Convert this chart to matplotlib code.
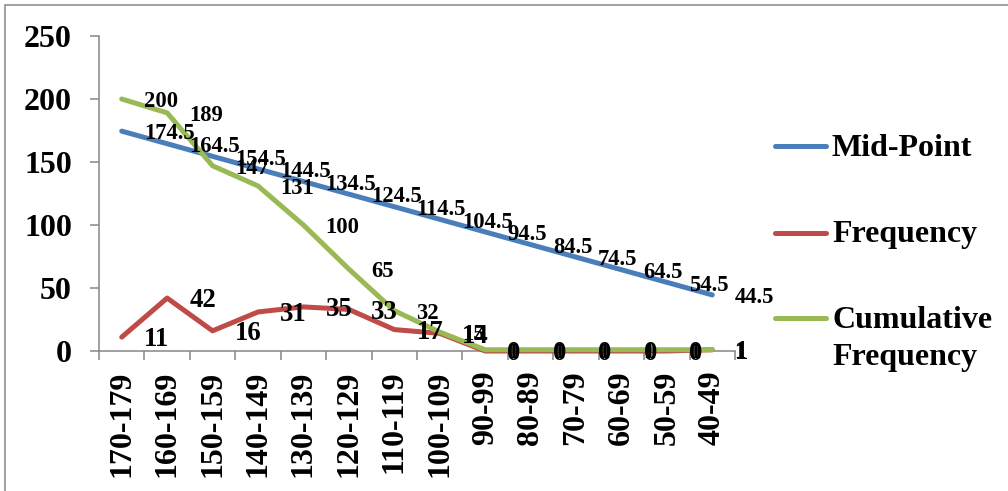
import matplotlib
matplotlib.use("Agg")
import matplotlib.pyplot as plt
from matplotlib.lines import Line2D
from matplotlib.patches import Rectangle
import numpy as np

plt.rcParams['font.family'] = ['Liberation Serif', 'DejaVu Serif']
plt.rcParams['font.weight'] = 'bold'

classes = ["170-179", "160-169", "150-159", "140-149", "130-139", "120-129",
           "110-119", "100-109", "90-99", "80-89", "70-79", "60-69", "50-59", "40-49"]
mid_point = [174.5, 164.5, 154.5, 144.5, 134.5, 124.5, 114.5, 104.5,
             94.5, 84.5, 74.5, 64.5, 54.5, 44.5]
frequency = [11, 42, 16, 31, 35, 33, 17, 14, 0, 0, 0, 0, 0, 1]
cumulative = [200, 189, 147, 131, 100, 65, 32, 15, 1, 1, 1, 1, 1, 1]

series = [
    ("Mid-Point", mid_point, "#4A7EBB", 16.3),
    ("Frequency", frequency, "#BE4B48", 19.3),
    ("Cumulative\nFrequency", cumulative, "#98B954", 16.3),
]

W, H, DPI = 1008, 491, 100
fig = plt.figure(figsize=(W / DPI, H / DPI), dpi=DPI)
ax = fig.add_axes([99 / W, 1 - 351 / H, (735 - 99) / W, (351 - 36) / H])

x = np.arange(len(classes))
for name, vals, color, fs in series:
    ax.plot(x, vals, color=color, lw=3.6, solid_capstyle='round',
            solid_joinstyle='round', clip_on=False, zorder=3)
for name, vals, color, fs in series:
    for xi, v in zip(x, vals):
        ax.annotate(f"{v:g}", (xi, v), xytext=(16, -2), textcoords='offset points',
                    ha='left', va='center', fontsize=fs, fontweight='bold',
                    color='black', zorder=5, annotation_clip=False)

grey = "#868686"
ax.set_xlim(-0.5, len(classes) - 0.5)
ax.set_ylim(0, 250)
ax.set_yticks(np.arange(0, 251, 50))
ax.set_xticks(x)
ax.set_xticklabels(classes, rotation=90, va='top', ha='center')
ax.set_xticks(np.arange(-0.5, len(classes), 1), minor=True)
ax.tick_params(axis='x', which='major', length=0, pad=14, labelsize=23)
ax.tick_params(axis='x', which='minor', length=6.5, width=1.1, color=grey, direction='out')
ax.tick_params(axis='y', length=6.5, width=1.1, color=grey, pad=13, labelsize=23)
for lab in ax.get_xticklabels() + ax.get_yticklabels():
    lab.set_fontweight('bold')
for s in ('top', 'right'):
    ax.spines[s].set_visible(False)
for s in ('left', 'bottom'):
    ax.spines[s].set_color(grey)
    ax.spines[s].set_linewidth(1.1)

# Legend drawn in pixel coordinates to the right of the plot
leg_rows = [146, 233, 318]
for (name, vals, color, fs), yp in zip(series, leg_rows):
    yf = 1 - yp / H
    fig.add_artist(Line2D([775 / W, 826 / W], [yf, yf], color=color, lw=3.6,
                          solid_capstyle='round', transform=fig.transFigure))
    lines = name.split("\n")
    for i, ln in enumerate(lines):
        fig.text(832 / W, 1 - (yp + 2 + i * 37) / H, ln, fontsize=23,
                 fontweight='bold', ha='left', va='center')

# Chart frame
fig.add_artist(Rectangle((4.5 / W, -0.1), 1.2, 1 - 4.5 / H + 0.1, fill=False,
                         edgecolor=grey, lw=1.1, transform=fig.transFigure))

fig.savefig("out.png", dpi=DPI)
